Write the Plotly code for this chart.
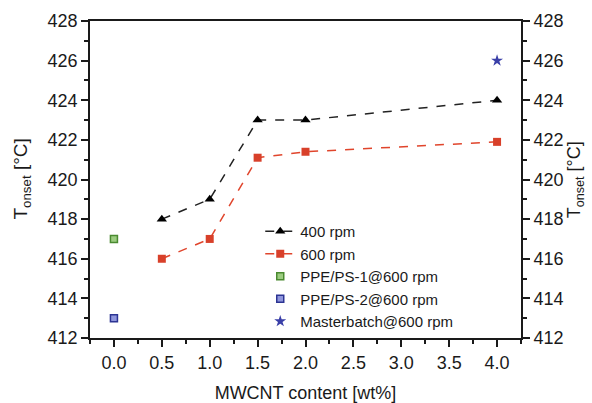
import plotly.graph_objects as go

x_rpm = [0.5, 1.0, 1.5, 2.0, 4.0]
t400 = [418.0, 419.0, 423.0, 423.0, 424.0]
t600 = [416.0, 417.0, 421.1, 421.4, 421.9]
x_ps1 = [0.0]
t_ps1 = [417.0]
x_ps2 = [0.0]
t_ps2 = [413.0]
x_mb = [4.0]
t_mb = [426.0]

FONT = "Liberation Sans, Arial, sans-serif"
INK = "#1a1a1a"
fig = go.Figure()
fig.add_trace(go.Scatter(x=x_rpm, y=t400, name="400 rpm", mode="lines+markers",
                         line=dict(color="#222222", dash="dash", width=1.5),
                         marker=dict(symbol="triangle-up", size=9, color="#000000")))
fig.add_trace(go.Scatter(x=x_rpm, y=t600, name="600 rpm", mode="lines+markers",
                         line=dict(color="#e0452c", dash="dash", width=1.5),
                         marker=dict(symbol="square", size=8, color="#d8402a")))
fig.add_trace(go.Scatter(x=x_ps1, y=t_ps1, name="PPE/PS-1@600 rpm", mode="markers",
                         marker=dict(symbol="square", size=7, color="#9ccc80",
                                     line=dict(color="#4a8a30", width=1.5))))
fig.add_trace(go.Scatter(x=x_ps2, y=t_ps2, name="PPE/PS-2@600 rpm", mode="markers",
                         marker=dict(symbol="square", size=7, color="#8f96dc",
                                     line=dict(color="#2c3493", width=1.5))))
fig.add_trace(go.Scatter(x=x_mb, y=t_mb, name="Masterbatch@600 rpm", mode="markers",
                         marker=dict(symbol="star", size=9, color="#3a3fa8")))
fig.add_trace(go.Scatter(x=x_mb, y=t_mb, yaxis="y2", mode="markers", showlegend=False,
                         hoverinfo="skip", marker=dict(opacity=0)))

axis_common = dict(showline=True, linecolor=INK, linewidth=1.8,
                   ticks="outside", ticklen=7, tickwidth=1.5, tickcolor=INK,
                   showgrid=False, zeroline=False, automargin=False,
                   tickfont=dict(family=FONT, size=18, color=INK))
ytitle_text = "T<sub>onset</sub> [°C]"

fig.update_layout(
    width=592, height=403,
    margin=dict(l=90, r=71, t=21, b=65, autoexpand=False),
    plot_bgcolor="white", paper_bgcolor="white",
    font=dict(family=FONT, color=INK),
    xaxis=dict(**axis_common, range=[-0.25, 4.25], dtick=0.5, tick0=0, tickformat=".1f",
               mirror=True,
               minor=dict(ticks="outside", ticklen=4, dtick=0.25, tick0=0, tickcolor=INK),
               title=dict(text="MWCNT content [wt%]", standoff=20,
                          font=dict(family=FONT, size=18, color=INK))),
    yaxis=dict(**axis_common, range=[412, 428], dtick=2,
               minor=dict(ticks="outside", ticklen=4, dtick=1, tickcolor=INK)),
    yaxis2=dict(**axis_common, range=[412, 428], dtick=2, overlaying="y", side="right",
                minor=dict(ticks="outside", ticklen=4, dtick=1, tickcolor=INK)),
    legend=dict(x=0.395, y=0.388, xanchor="left", yanchor="top", bgcolor="rgba(0,0,0,0)",
                font=dict(family=FONT, size=15, color=INK),
                tracegroupgap=0, itemwidth=30),
    showlegend=True,
    annotations=[
        dict(text=ytitle_text, xref="paper", yref="paper", x=-0.16, y=0.5,
             xanchor="center", yanchor="middle", textangle=-90, showarrow=False,
             font=dict(family=FONT, size=19, color=INK)),
        dict(text=ytitle_text, xref="paper", yref="paper", x=1.127, y=0.5,
             xanchor="center", yanchor="middle", textangle=-90, showarrow=False,
             font=dict(family=FONT, size=18, color=INK)),
    ],
)
fig.write_html("out.html", config={"displayModeBar": False},
               post_script="document.body.style.margin='0';document.body.style.overflow='hidden';")
